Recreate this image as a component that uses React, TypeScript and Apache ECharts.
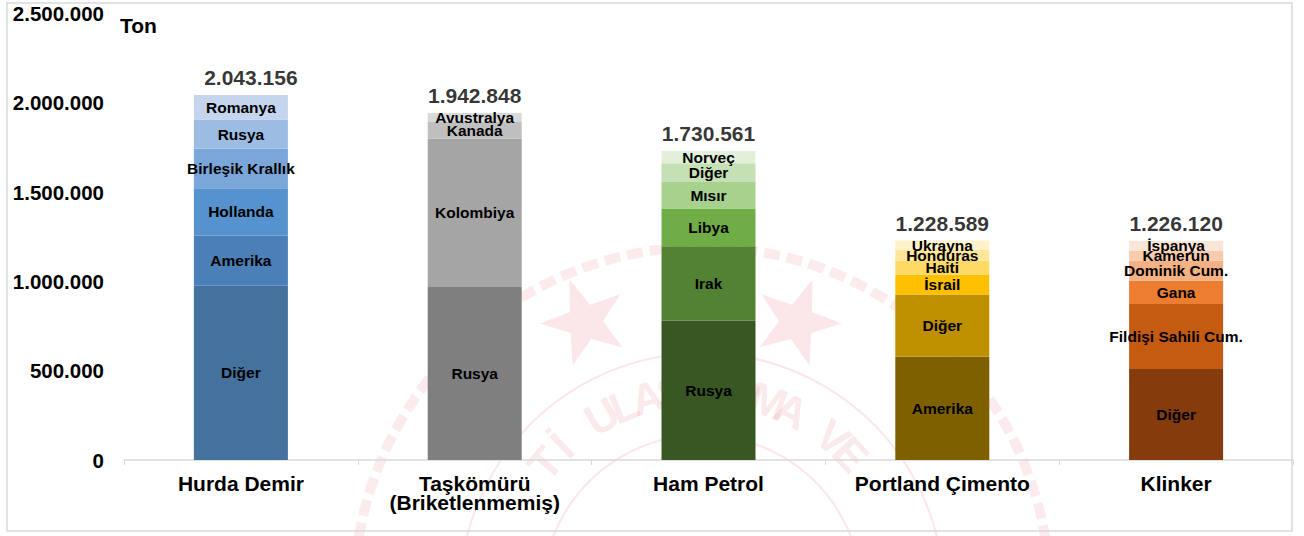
import React, { useEffect, useRef } from 'react';
import * as echarts from 'echarts';

const categories = ['Hurda Demir', 'Taşkömürü\n(Briketlenmemiş)', 'Ham Petrol', 'Portland Çimento', 'Klinker'];
const totals = [2043156, 1942848, 1730561, 1228589, 1226120];

// segments, bottom to top
const hurdaNames = ['Diğer', 'Amerika', 'Hollanda', 'Birleşik Krallık', 'Rusya', 'Romanya'];
const hurdaValues = [976000, 281000, 265000, 221000, 164000, 136156];
const hurdaColors = ['#44719E', '#4A7FB8', '#5592CE', '#7AA6DA', '#9DBCE4', '#C4D5ED'];

const tasNames = ['Rusya', 'Kolombiya', 'Kanada', 'Avustralya'];
const tasValues = [969000, 830000, 93000, 50848];
const tasColors = ['#7F7F7F', '#A5A5A5', '#BFBFBF', '#D9D9D9'];

const petrolNames = ['Rusya', 'Irak', 'Libya', 'Mısır', 'Diğer', 'Norveç'];
const petrolValues = [780000, 417000, 211000, 148000, 105000, 69561];
const petrolColors = ['#385723', '#548235', '#70AD47', '#A9D18E', '#C5E0B4', '#E2F0D9'];

const portlandNames = ['Amerika', 'Diğer', 'İsrail', 'Haiti', 'Honduras', 'Ukrayna'];
const portlandValues = [578000, 348000, 112000, 78000, 62000, 50589];
const portlandColors = ['#7F6000', '#BF9000', '#FFC000', '#FFD966', '#FFE699', '#FFF2CC'];

const klinkerNames = ['Diğer', 'Fildişi Sahili Cum.', 'Gana', 'Dominik Cum.', 'Kamerun', 'İspanya'];
const klinkerValues = [510000, 363000, 131000, 112000, 56000, 54120];
const klinkerColors = ['#843C0C', '#C55A11', '#ED7D31', '#F4B183', '#F8CBAD', '#FBE5D6'];

const yTicks = { min: 0, max: 2500000, interval: 500000 };

const watermarkText = 'Tİ ULAŞTIRMA VE';

const FONT = '"Liberation Sans", Arial, sans-serif';

const fmt = (n: number) => String(Math.round(n)).replace(/\B(?=(\d{3})+(?!\d))/g, '.');

function starPoints(cx: number, cy: number, R: number, r: number, rot: number) {
  const pts: number[][] = [];
  for (let i = 0; i < 10; i++) {
    const a = rot + (i * Math.PI) / 5 - Math.PI / 2;
    const rr = i % 2 === 0 ? R : r;
    pts.push([cx + rr * Math.cos(a), cy + rr * Math.sin(a)]);
  }
  return pts;
}

export default function App() {
  const ref = useRef<HTMLDivElement>(null);
  useEffect(() => {
    const chart = echarts.init(ref.current!, null, { renderer: 'svg' });
    const names = [hurdaNames, tasNames, petrolNames, portlandNames, klinkerNames];
    const values = [hurdaValues, tasValues, petrolValues, portlandValues, klinkerValues];
    const colors = [hurdaColors, tasColors, petrolColors, portlandColors, klinkerColors];
    const levels = 6;
    const barSeries: any[] = [];
    for (let lv = 0; lv < levels; lv++) {
      barSeries.push({
        type: 'bar',
        stack: 'all',
        barWidth: 94,
        z: 3,
        data: categories.map((_, ci) =>
          values[ci][lv] != null
            ? { value: values[ci][lv], name: names[ci][lv], itemStyle: { color: colors[ci][lv] } }
            : '-'
        ),
        label: {
          show: true,
          position: 'inside',
          formatter: (p: any) => p.data.name,
          color: '#000',
          fontWeight: 'bold',
          fontSize: 15.5,
          fontFamily: FONT,
        },
      });
    }

    // faint seal watermark
    const wmColor = 'rgba(225, 90, 105, 0.15)';
    const cx = 702;
    const cy = 595;
    const wm: any[] = [
      {
        type: 'circle',
        shape: { cx, cy, r: 348 },
        style: { fill: 'none', stroke: 'rgba(225, 90, 105, 0.12)', lineWidth: 10, lineDash: [16, 7] },
        silent: true,
        z: -10,
      },
      {
        type: 'circle',
        shape: { cx, cy, r: 242 },
        style: { fill: 'none', stroke: wmColor, lineWidth: 2 },
        silent: true,
        z: -10,
      },
      {
        type: 'circle',
        shape: { cx, cy, r: 160 },
        style: { fill: 'none', stroke: wmColor, lineWidth: 2 },
        silent: true,
        z: -10,
      },
      {
        type: 'polygon',
        shape: { points: starPoints(585, 322, 45, 18, -0.35) },
        style: { fill: wmColor },
        silent: true,
        z: -10,
      },
      {
        type: 'polygon',
        shape: { points: starPoints(797, 322, 45, 18, 0.35) },
        style: { fill: wmColor },
        silent: true,
        z: -10,
      },
    ];
    const chars = watermarkText.split('');
    const startDeg = -50;
    const stepDeg = 6.9;
    chars.forEach((ch, i) => {
      if (ch === ' ') return;
      const th = ((startDeg + i * stepDeg) * Math.PI) / 180;
      const rr = 205;
      wm.push({
        type: 'text',
        x: cx + rr * Math.sin(th),
        y: cy - rr * Math.cos(th),
        rotation: -th,
        silent: true,
        z: -10,
        style: {
          text: ch,
          fontSize: 44,
          fontWeight: 'bold',
          fontFamily: FONT,
          fill: wmColor,
          align: 'center',
          verticalAlign: 'middle',
        },
      });
    });

    const option: any = {
      animation: false,
      backgroundColor: '#fff',
      grid: { left: 124, right: 11, top: 13.5, bottom: 76, containLabel: false },
      graphic: [
        ...wm,
        {
          type: 'rect',
          shape: { x: 7, y: 3, width: 1285, height: 528 },
          style: { fill: 'none', stroke: '#D9D9D9', lineWidth: 1.5 },
          silent: true,
        },
        {
          type: 'text',
          left: 120,
          top: 15,
          style: { text: 'Ton', fontSize: 21, fontWeight: 'bold', fontFamily: FONT, fill: '#000' },
        },
      ],
      xAxis: {
        type: 'category',
        data: categories,
        axisLine: { lineStyle: { color: '#D9D9D9', width: 1.5 } },
        axisTick: { show: true, length: 5, lineStyle: { color: '#D9D9D9' } },
        axisLabel: {
          color: '#000',
          fontWeight: 'bold',
          fontSize: 21,
          fontFamily: FONT,
          lineHeight: 19,
          margin: 14,
        },
      },
      yAxis: {
        type: 'value',
        min: yTicks.min,
        max: yTicks.max,
        interval: yTicks.interval,
        splitLine: { show: false },
        axisLine: { show: false },
        axisTick: { show: false },
        axisLabel: {
          color: '#000',
          fontWeight: 'bold',
          fontSize: 20.5,
          fontFamily: FONT,
          margin: 20,
          formatter: (v: number) => fmt(v),
        },
      },
      series: [
        ...barSeries,
        {
          type: 'scatter',
          symbolSize: 0,
          z: 10,
          data: totals.map((t, i) => (i === 0 ? { value: t, label: { offset: [10, 0] } } : t)),
          label: {
            show: true,
            position: 'top',
            distance: 7,
            formatter: (p: any) => fmt(p.value),
            color: '#000',
            fontWeight: 'bold',
            fontSize: 21,
            fontFamily: FONT,
          },
        },
      ],
    };
    chart.setOption(option);
    return () => chart.dispose();
  }, []);
  return (
    <div
      ref={ref}
      style={{ position: 'fixed', left: 0, top: 0, width: 1304, height: 536, background: '#fff' }}
    />
  );
}
